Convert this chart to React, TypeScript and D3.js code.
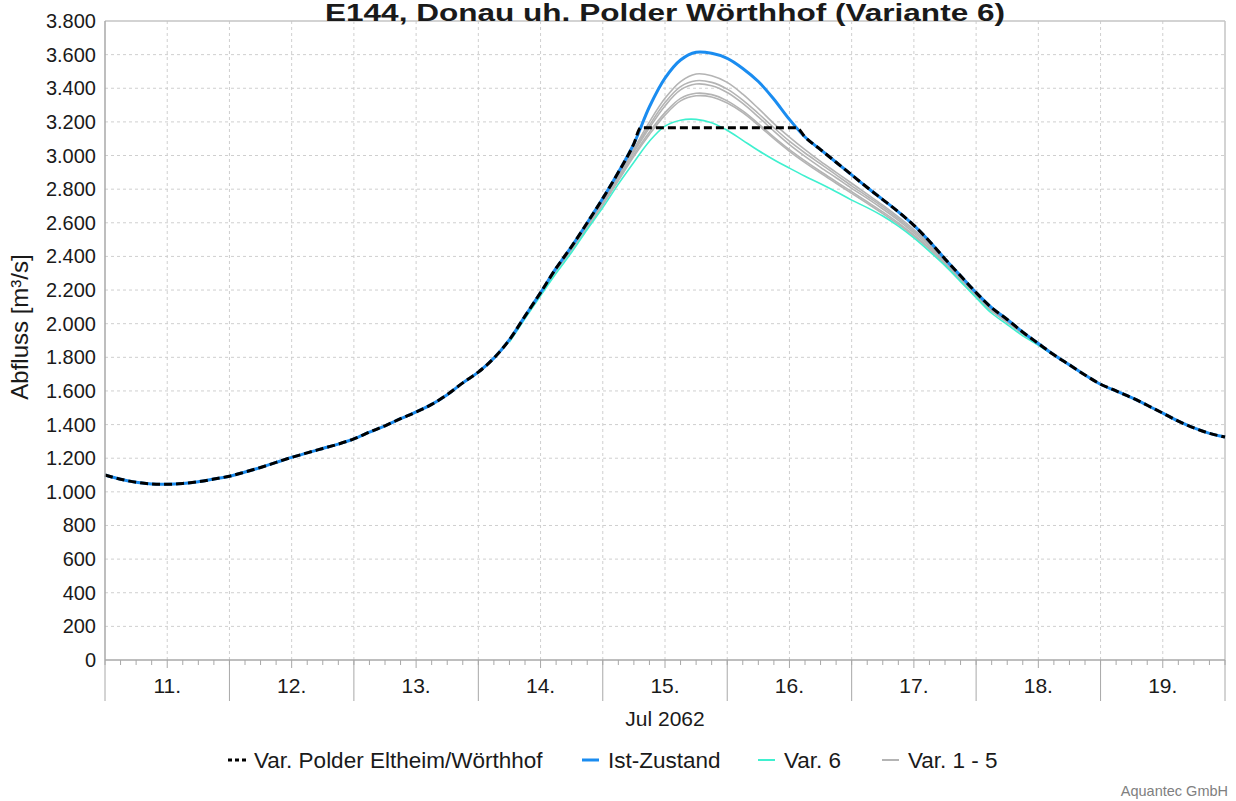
import React from "react";
import * as d3 from "d3";

const W = 1236;
const H = 801;
const PLOT = { left: 105, right: 1225, top: 21, bottom: 660 };

const titleText = "E144, Donau uh. Polder Wörthhof (Variante 6)";
const yAxisTitle = "Abfluss [m³/s]";
const monthLabel = "Jul 2062";
const creditText = "Aquantec GmbH";

const startMs = Date.UTC(2062, 6, 11, 0, 0);
const endMs = Date.UTC(2062, 6, 20, 0, 0);

// Ist-Zustand, every 3 hours from 11 Jul 00:00
const mainHours = d3.range(0, 217, 3);
const istZustand = [
  1100, 1075, 1057, 1047, 1045, 1050, 1060, 1076, 1093, 1118, 1145, 1175, 1205,
  1232, 1258, 1284, 1315, 1355, 1393, 1435, 1475, 1520, 1578, 1648, 1712, 1795,
  1905, 2045, 2185, 2330, 2460, 2600, 2745, 2900, 3070, 3290, 3460, 3568, 3614,
  3608, 3578, 3518, 3440, 3335, 3215, 3110, 3035, 2960, 2885, 2810, 2738, 2665,
  2585, 2490, 2385, 2285, 2185, 2095, 2025, 1950, 1882, 1815, 1755, 1695, 1640,
  1600, 1560, 1515, 1468, 1420, 1380, 1348, 1326,
];

// Var. Polder Eltheim/Wörthhof (capped peak)
const polderHours = [...d3.range(0, 103, 3), 103.3, 133.4, ...d3.range(135, 217, 3)];
const polderValues = [
  1100, 1075, 1057, 1047, 1045, 1050, 1060, 1076, 1093, 1118, 1145, 1175, 1205,
  1232, 1258, 1284, 1315, 1355, 1393, 1435, 1475, 1520, 1578, 1648, 1712, 1795,
  1905, 2045, 2185, 2330, 2460, 2600, 2745, 2900, 3070, 3165, 3165, 3110, 3035,
  2960, 2885, 2810, 2738, 2665, 2585, 2490, 2385, 2285, 2185, 2095, 2025, 1950,
  1882, 1815, 1755, 1695, 1640, 1600, 1560, 1515, 1468, 1420, 1380, 1348, 1326,
];

// Variants, every 3 hours from 14 Jul 06:00 to 18 Jul 18:00
const varHours = d3.range(78, 187, 3);
const var6 = [
  1890, 2030, 2166, 2300, 2425, 2560, 2690, 2830, 2960, 3085, 3175, 3210, 3215,
  3195, 3150, 3090, 3030, 2975, 2925, 2877, 2832, 2785, 2735, 2690, 2640, 2580,
  2510, 2430, 2345, 2250, 2155, 2062, 1995, 1928, 1872, 1812, 1755,
];
const var1 = [
  1904, 2044, 2183, 2326, 2454, 2592, 2733, 2885, 3040, 3200, 3340, 3440, 3485,
  3475, 3435, 3365, 3280, 3190, 3110, 3035, 2965, 2900, 2835, 2770, 2705, 2635,
  2560, 2475, 2378, 2278, 2180, 2092, 2022, 1948, 1880, 1815, 1755,
];
const var2 = [
  1903, 2043, 2181, 2324, 2450, 2586, 2726, 2876, 3030, 3180, 3315, 3410, 3445,
  3435, 3395, 3330, 3250, 3165, 3085, 3015, 2950, 2885, 2820, 2758, 2695, 2625,
  2550, 2468, 2372, 2272, 2175, 2088, 2018, 1946, 1880, 1815, 1755,
];
const var3 = [
  1902, 2042, 2180, 2322, 2447, 2582, 2721, 2868, 3020, 3165, 3295, 3390, 3425,
  3415, 3375, 3310, 3230, 3145, 3065, 2995, 2930, 2868, 2805, 2745, 2682, 2615,
  2540, 2460, 2365, 2266, 2170, 2083, 2014, 1944, 1879, 1815, 1755,
];
const var4 = [
  1901, 2040, 2177, 2318, 2442, 2575, 2712, 2856, 3005, 3140, 3255, 3340, 3370,
  3362, 3325, 3265, 3190, 3110, 3035, 2968, 2905, 2845, 2785, 2725, 2665, 2600,
  2528, 2450, 2357, 2260, 2165, 2078, 2010, 1941, 1878, 1814, 1755,
];
const var5 = [
  1900, 2039, 2175, 2315, 2438, 2570, 2706, 2850, 2995, 3125, 3240, 3325, 3355,
  3348, 3312, 3255, 3180, 3100, 3025, 2958, 2895, 2835, 2775, 2715, 2655, 2590,
  2520, 2442, 2352, 2255, 2160, 2074, 2007, 1939, 1877, 1813, 1755,
];
const grayVariants = [var1, var2, var3, var4, var5];

const yTicks = d3.range(0, 3801, 200);
const dayLabels = ["11.", "12.", "13.", "14.", "15.", "16.", "17.", "18.", "19."];

const legendItems = [
  { label: "Var. Polder Eltheim/Wörthhof", kind: "dash" },
  { label: "Ist-Zustand", kind: "blue" },
  { label: "Var. 6", kind: "cyan" },
  { label: "Var. 1 - 5", kind: "gray" },
];

const COLORS = {
  blue: "#1a8cf0",
  cyan: "#3ff0cf",
  gray: "#b4b4b4",
  dash: "#000000",
  grid: "#cfcfcf",
  axis: "#a8a8a8",
  frame: "#c4c4c4",
  text: "#1a1a1a",
};

const FONT = "'Liberation Sans', Arial, sans-serif";

const de = d3.formatLocale({
  decimal: ",",
  thousands: ".",
  grouping: [3],
  currency: ["", " €"],
});
const fmt = de.format(",d");

const toDate = (h: number) => new Date(startMs + h * 3600 * 1000);

export default function App() {
  const x = d3
    .scaleUtc()
    .domain([new Date(startMs), new Date(endMs)])
    .range([PLOT.left, PLOT.right]);
  const y = d3.scaleLinear().domain([0, 3800]).range([PLOT.bottom, PLOT.top]);

  const smooth = d3
    .line<[number, number]>()
    .x((d) => x(toDate(d[0])))
    .y((d) => y(d[1]))
    .curve(d3.curveCatmullRom.alpha(0.5));
  const mono = d3
    .line<[number, number]>()
    .x((d) => x(toDate(d[0])))
    .y((d) => y(d[1]))
    .curve(d3.curveMonotoneX);

  const pairs = (hs: number[], vs: number[]) =>
    hs.map((h, i) => [h, vs[i]] as [number, number]);

  const gridTimes = d3.utcHour
    .every(12)!
    .range(new Date(startMs + 1), new Date(endMs));
  const minorTimes = d3.utcHour.every(3)!.range(new Date(startMs), new Date(endMs + 1));
  const dayBounds = d3.utcDay.range(new Date(startMs), new Date(endMs + 1));
  const noonTimes = dayLabels.map((_, i) => new Date(startMs + (i * 24 + 12) * 3600 * 1000));

  const legendX = [228, 582, 758, 882];
  const legendY = 760;

  return (
    <svg
      width={W}
      height={H}
      style={{ position: "absolute", left: 0, top: 0, display: "block", background: "#fff" }}
      fontFamily={FONT}
    >
      <rect x={0} y={0} width={W} height={H} fill="#fff" />
      {/* horizontal grid */}
      {yTicks
        .filter((v) => v > 0 && v < 3800)
        .map((v) => (
          <line
            key={"hg" + v}
            x1={PLOT.left}
            x2={PLOT.right}
            y1={y(v)}
            y2={y(v)}
            stroke={COLORS.grid}
            strokeWidth={1}
            strokeDasharray="3,3"
          />
        ))}
      {/* vertical grid */}
      {gridTimes.map((t, i) => (
        <line
          key={"vg" + i}
          x1={x(t)}
          x2={x(t)}
          y1={PLOT.top}
          y2={PLOT.bottom}
          stroke={COLORS.grid}
          strokeWidth={1}
          strokeDasharray="3,3"
        />
      ))}
      {/* frame */}
      <line x1={PLOT.left} x2={PLOT.right} y1={PLOT.top} y2={PLOT.top} stroke={COLORS.frame} strokeWidth={1.5} />
      <line x1={PLOT.right} x2={PLOT.right} y1={PLOT.top} y2={PLOT.bottom} stroke={COLORS.frame} strokeWidth={1.5} />

      {/* series */}
      {grayVariants.map((vals, i) => (
        <path
          key={"g" + i}
          d={smooth(pairs(varHours, vals)) || ""}
          fill="none"
          stroke={COLORS.gray}
          strokeWidth={1.6}
        />
      ))}
      <path d={smooth(pairs(varHours, var6)) || ""} fill="none" stroke={COLORS.cyan} strokeWidth={1.6} />
      <path d={smooth(pairs(mainHours, istZustand)) || ""} fill="none" stroke={COLORS.blue} strokeWidth={3} />
      <path
        d={mono(pairs(polderHours, polderValues)) || ""}
        fill="none"
        stroke={COLORS.dash}
        strokeWidth={3}
        strokeDasharray="8,4"
      />

      {/* y axis */}
      <line x1={PLOT.left} x2={PLOT.left} y1={PLOT.top} y2={PLOT.bottom} stroke={COLORS.axis} strokeWidth={1.5} />
      {yTicks.map((v) => (
        <text
          key={"yt" + v}
          x={96}
          y={y(v)}
          dy="0.35em"
          textAnchor="end"
          fontSize={20}
          fill={COLORS.text}
        >
          {fmt(v)}
        </text>
      ))}
      <text
        transform={`translate(28,327) rotate(-90)`}
        textAnchor="middle"
        fontSize={24}
        fill={COLORS.text}
      >
        {yAxisTitle}
      </text>

      {/* x axis */}
      <line x1={PLOT.left} x2={PLOT.right} y1={PLOT.bottom} y2={PLOT.bottom} stroke={COLORS.axis} strokeWidth={1.5} />
      {minorTimes.map((t, i) => {
        const isNoon = t.getUTCHours() === 12;
        return (
          <line
            key={"mt" + i}
            x1={x(t)}
            x2={x(t)}
            y1={PLOT.bottom}
            y2={PLOT.bottom + (isNoon ? 8 : 5)}
            stroke={COLORS.axis}
            strokeWidth={1}
          />
        );
      })}
      {dayBounds.map((t, i) => (
        <line
          key={"db" + i}
          x1={x(t)}
          x2={x(t)}
          y1={PLOT.bottom}
          y2={PLOT.bottom + 41}
          stroke={COLORS.axis}
          strokeWidth={1}
        />
      ))}
      {noonTimes.map((t, i) => (
        <text
          key={"dl" + i}
          x={x(t)}
          y={693}
          textAnchor="middle"
          fontSize={21}
          fill={COLORS.text}
        >
          {dayLabels[i]}
        </text>
      ))}
      <text
        x={(PLOT.left + PLOT.right) / 2}
        y={726}
        textAnchor="middle"
        fontSize={21}
        fill={COLORS.text}
      >
        {monthLabel}
      </text>

      {/* title */}
      <text
        x={(PLOT.left + PLOT.right) / 2}
        y={21}
        textAnchor="middle"
        fontSize={23}
        fontWeight="bold"
        textLength={680}
        lengthAdjust="spacingAndGlyphs"
        fill={COLORS.text}
      >
        {titleText}
      </text>

      {/* legend */}
      {legendItems.map((it, i) => {
        const lx = legendX[i];
        return (
          <g key={"lg" + i}>
            {it.kind === "dash" ? (
              <line
                x1={lx}
                x2={lx + 19}
                y1={legendY}
                y2={legendY}
                stroke={COLORS.dash}
                strokeWidth={3}
                strokeDasharray="4,3"
              />
            ) : (
              <line
                x1={lx}
                x2={lx + 17}
                y1={legendY}
                y2={legendY}
                stroke={COLORS[it.kind as "blue" | "cyan" | "gray"]}
                strokeWidth={it.kind === "blue" ? 3 : 2}
              />
            )}
            <text x={lx + 26} y={legendY} dy="0.35em" fontSize={22.5} fill={COLORS.text}>
              {it.label}
            </text>
          </g>
        );
      })}

      <text x={1228} y={796} textAnchor="end" fontSize={14.5} fill="#808080">
        {creditText}
      </text>
    </svg>
  );
}
